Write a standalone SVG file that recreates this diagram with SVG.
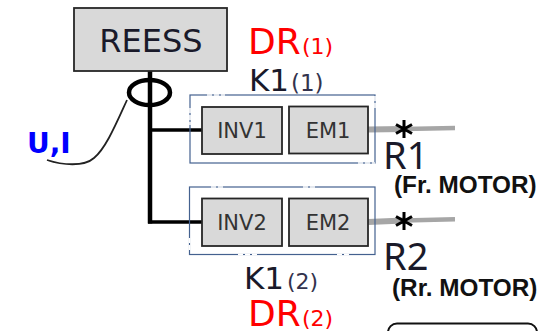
<svg xmlns="http://www.w3.org/2000/svg" width="547" height="331" viewBox="0 0 547 331">
<style>
text{font-family:"DejaVu Sans","Noto Sans",sans-serif;fill:#1a1a2a}
.box{fill:#d9d9d9;stroke:#262626;stroke-width:1.8}
.frame{fill:none;stroke:#44618f;stroke-width:1.2}
.gap{fill:none;stroke:#fff;stroke-width:1.6;stroke-dasharray:5 2}
.red{fill:#ff0000}
.sub{fill:#33334d}
.bold{font-weight:700;font-size:24.300px;fill:#111;font-family:"Liberation Sans",Arial,sans-serif}
.lbl{font-size:21px;fill:#333}
.big{font-size:38px;font-family:"Noto Sans",sans-serif}
.shaft{stroke:#a6a6a6;fill:none}
.rotor{stroke:#000;stroke-width:3;fill:none}
</style>
<g id="connectors" fill="none" stroke="#000">
<path d="M150 71V223.500" stroke-width="4.500"/>
<path d="M150 130H202" stroke-width="3.500"/>
<path d="M148 222H202" stroke-width="3.500"/>
<path d="M127 100C116 124 106 148 94 158C84 167 62 165 47 160" stroke="#222" stroke-width="1.800"/>
<path class="shaft" stroke-width="6" d="M368 129.500L404 129"/>
<path class="shaft" stroke-width="4.500" d="M404 129L455 128"/>
<path class="shaft" stroke-width="6" d="M368 222L404 220.500"/>
<path class="shaft" stroke-width="4.500" d="M404 220.500L455 219.300"/>
</g>
<g id="reess"><rect class="box" x="74" y="8" width="153" height="63"/><text x="151" y="52" text-anchor="middle" font-size="32">REESS</text></g>
<g id="sensor"><ellipse cx="149.500" cy="92.500" rx="20.500" ry="12.500" fill="none" stroke="#000" stroke-width="4.500"/></g>
<g id="ui"><text x="27" y="153" font-size="28" font-weight="700" style="fill:#0000ff">U,I</text></g>
<g id="k1-frame-1"><rect class="frame" x="190" y="95" width="185" height="68"/><path class="gap" d="M207 95H225M190 108V125M358 163H375M375 96V110"/></g>
<g id="k1-frame-2"><rect class="frame" x="189.500" y="187" width="185.500" height="67.500"/><path class="gap" d="M211 187H224M303 187H315M189.500 238V252M238 254.500H257M337 254.500H350"/></g>
<g id="inv1"><rect class="box" x="202" y="107" width="80" height="47"/><text class="lbl" x="242" y="138" text-anchor="middle">INV1</text></g>
<g id="em1"><rect class="box" x="289" y="106.500" width="79" height="47"/><text class="lbl" x="328" y="138" text-anchor="middle">EM1</text></g>
<g id="inv2"><rect class="box" x="202" y="198.500" width="80" height="47.500"/><text class="lbl" x="242" y="230" text-anchor="middle">INV2</text></g>
<g id="em2"><rect class="box" x="289" y="198.500" width="79" height="47.500"/><text class="lbl" x="328" y="230" text-anchor="middle">EM2</text></g>
<g id="dr1"><text class="red" x="248" y="54" font-size="36">DR</text><text class="red" x="302" y="54" font-size="22">(1)</text></g>
<g id="k1-1"><text x="249" y="91" font-size="31">K1</text><text class="sub" x="291" y="91" font-size="23">(1)</text></g>
<g id="k1-2"><text x="244" y="289" font-size="31">K1</text><text class="sub" x="287" y="289" font-size="22">(2)</text></g>
<g id="dr2"><text class="red" x="248" y="326" font-size="36">DR</text><text class="red" x="302" y="326" font-size="22">(2)</text></g>
<g id="r1"><path class="rotor" d="M404 120V138M396 124.500L412 133.500M396 133.500L412 124.500"/><text class="big" x="383" y="169">R1</text><text class="bold" x="394" y="193">(Fr. MOTOR)</text></g>
<g id="r2"><path class="rotor" d="M404 212V230M396 216.500L412 225.500M396 225.500L412 216.500"/><text class="big" x="383" y="270">R2</text><text class="bold" x="392" y="296">(Rr. MOTOR)</text></g>
<g id="partial"><rect x="388" y="323.500" width="149" height="30" rx="9" fill="none" stroke="#111" stroke-width="2"/></g>
</svg>
